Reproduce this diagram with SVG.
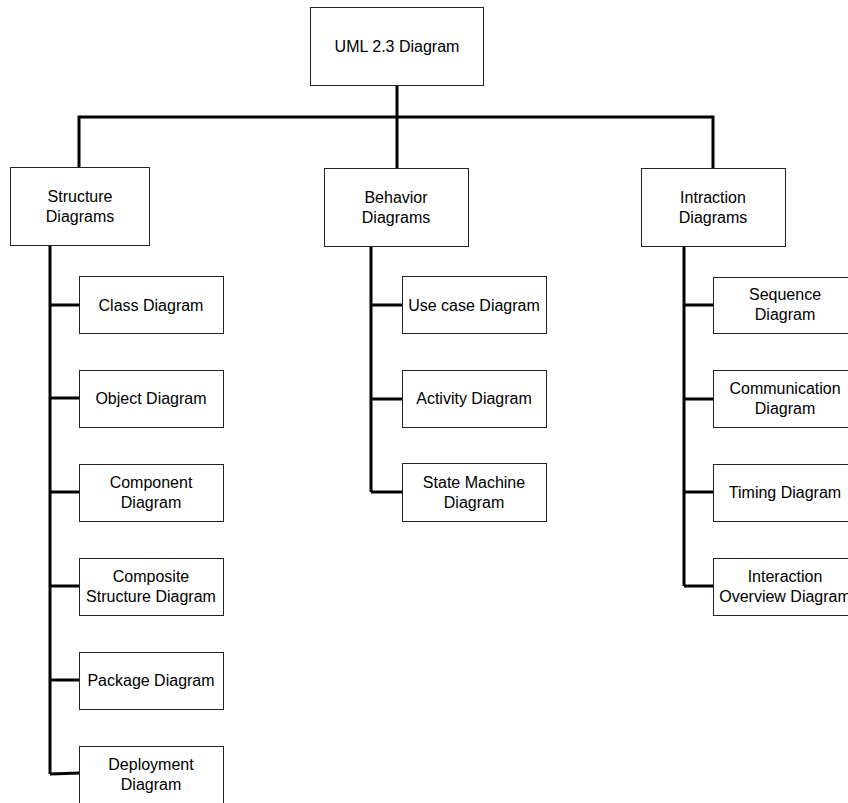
<svg xmlns="http://www.w3.org/2000/svg" width="848" height="803" viewBox="0 0 848 803">
<style>
.box{fill:#fff;stroke:#222;stroke-width:1}
.t{font-family:"Liberation Sans",Arial,sans-serif;font-size:16px;fill:#000;text-anchor:middle}
.c{fill:none;stroke:#000;stroke-width:3;stroke-linejoin:miter}
</style>
<rect width="848" height="803" fill="#fff"/>
<g id="connectors">
<path class="c" d="M397,85V117M79,167V117H713V168M397,117V168"/>
<path class="c" d="M50,245V774M50,305H80M50,398H80M50,492H80M50,586H80M50,680H80M50,774L80,773"/>
<path class="c" d="M371,247V492M371,305H402M371,399H402M371,492H402"/>
<path class="c" d="M684,247V586M684,305H713M684,399H713M684,492H713M684,586H713"/>
</g>
<g id="root"><rect class="box" x="310.5" y="7.5" width="173" height="78"/><text class="t" x="397" y="52">UML 2.3 Diagram</text></g>
<g id="structure"><rect class="box" x="10.5" y="167.5" width="139" height="78"/><text class="t" x="80" y="202">Structure</text><text class="t" x="80" y="222">Diagrams</text></g>
<g id="behavior"><rect class="box" x="324.5" y="168.5" width="144" height="78"/><text class="t" x="396" y="203">Behavior</text><text class="t" x="396" y="223">Diagrams</text></g>
<g id="interaction"><rect class="box" x="641.5" y="168.5" width="144" height="78"/><text class="t" x="713" y="203">Intraction</text><text class="t" x="713" y="223">Diagrams</text></g>
<g id="class"><rect class="box" x="79.5" y="276.5" width="144" height="57"/><text class="t" x="151" y="311">Class Diagram</text></g>
<g id="object"><rect class="box" x="79.5" y="370.5" width="144" height="57"/><text class="t" x="151" y="404">Object Diagram</text></g>
<g id="component"><rect class="box" x="79.5" y="464.5" width="144" height="57"/><text class="t" x="151" y="488">Component</text><text class="t" x="151" y="508">Diagram</text></g>
<g id="composite"><rect class="box" x="79.5" y="558.5" width="144" height="57"/><text class="t" x="151" y="582">Composite</text><text class="t" x="151" y="602">Structure Diagram</text></g>
<g id="package"><rect class="box" x="79.5" y="652.5" width="144" height="57"/><text class="t" x="151" y="686">Package Diagram</text></g>
<g id="deployment"><rect class="box" x="79.5" y="746.5" width="144" height="57"/><text class="t" x="151" y="770">Deployment</text><text class="t" x="151" y="790">Diagram</text></g>
<g id="usecase"><rect class="box" x="402.5" y="276.5" width="144" height="57"/><text class="t" x="474" y="311">Use case Diagram</text></g>
<g id="activity"><rect class="box" x="402.5" y="370.5" width="144" height="57"/><text class="t" x="474" y="404">Activity Diagram</text></g>
<g id="statemachine"><rect class="box" x="402.5" y="463.5" width="144" height="58"/><text class="t" x="474" y="488">State Machine</text><text class="t" x="474" y="508">Diagram</text></g>
<g id="sequence"><rect class="box" x="713.5" y="277.5" width="144" height="56"/><text class="t" x="785" y="300">Sequence</text><text class="t" x="785" y="320">Diagram</text></g>
<g id="communication"><rect class="box" x="713.5" y="370.5" width="144" height="57"/><text class="t" x="785" y="394">Communication</text><text class="t" x="785" y="414">Diagram</text></g>
<g id="timing"><rect class="box" x="713.5" y="464.5" width="144" height="57"/><text class="t" x="785" y="498">Timing Diagram</text></g>
<g id="overview"><rect class="box" x="713.5" y="558.5" width="144" height="57"/><text class="t" x="785" y="582">Interaction</text><text class="t" x="785" y="602">Overview Diagram</text></g>
</svg>
